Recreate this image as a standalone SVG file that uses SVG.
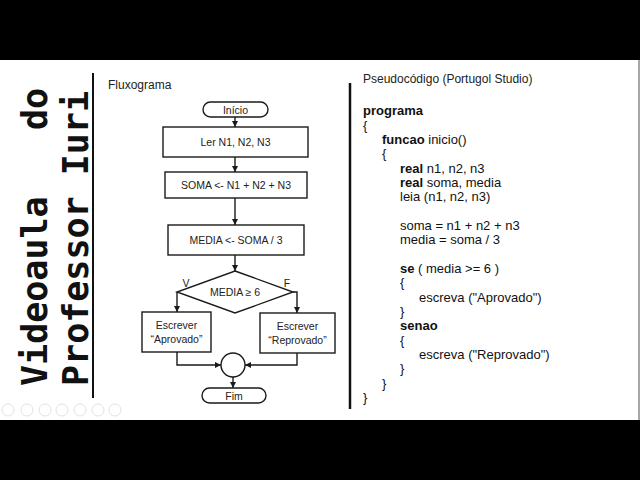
<svg xmlns="http://www.w3.org/2000/svg" width="640" height="480" viewBox="0 0 640 480">
<defs>
<marker id="ah" viewBox="0 0 8 8" refX="8" refY="4" markerWidth="6" markerHeight="6" markerUnits="userSpaceOnUse" orient="auto">
<path d="M0,0 L8,4 L0,8 Z" fill="#1a1a1a"/>
</marker>
<style>
.shape{fill:#fff;stroke:#1a1a1a;stroke-width:1.4}
.conn{fill:none;stroke:#1a1a1a;stroke-width:1.4;marker-end:url(#ah)}
.ft{font-family:"Liberation Sans",Arial,sans-serif;font-size:10.5px;fill:#222;text-anchor:middle}
.hd{font-family:"Liberation Sans",Arial,sans-serif;font-size:12px;fill:#222}
.code{font-family:"Liberation Sans",Arial,sans-serif;font-size:13px;fill:#111}
.b{font-weight:bold}
.vt{font-family:"DejaVu Sans Mono",monospace;font-weight:bold;font-size:35px;fill:#111}
.tb{fill:none;stroke:#e2e2e2;stroke-width:1}
</style>
</defs>
<rect x="0" y="0" width="640" height="480" fill="#000"/>
<rect x="0" y="60" width="640" height="360" fill="#fff"/>
<line x1="639" y1="60" x2="639" y2="420" stroke="#8a8a8a" stroke-width="1.5"/>

<!-- vertical title -->
<text class="vt" transform="translate(47,386) rotate(-90)"><tspan x="0" y="0">Videoaula</tspan><tspan x="256" y="0">do</tspan></text>
<text class="vt" transform="translate(88,386) rotate(-90)" x="0" y="0">Professor Iuri</text>
<line x1="93" y1="73" x2="93" y2="398" stroke="#111" stroke-width="2"/>

<!-- flowchart -->
<text class="hd" x="108" y="89">Fluxograma</text>

<g id="connectors">
<path class="conn" d="M235 117 V127"/>
<path class="conn" d="M235 157 V172"/>
<path class="conn" d="M235 198 V225"/>
<path class="conn" d="M235 255 V271"/>
<path class="conn" d="M177 292 V312"/>
<path class="conn" d="M293 292 H297 V313"/>
<path class="conn" d="M177 352 V365 H221"/>
<path class="conn" d="M297 353 V365 H245"/>
<path class="conn" d="M233 377 V388"/>
</g>

<g id="inicio">
<rect class="shape" x="203" y="102" width="65" height="15" rx="7.5"/>
<text class="ft" x="235.5" y="113.5">Início</text>
</g>
<g id="ler">
<rect class="shape" x="163" y="127" width="145" height="30"/>
<text class="ft" x="235.5" y="146">Ler N1, N2, N3</text>
</g>
<g id="soma">
<rect class="shape" x="165" y="172" width="142" height="26"/>
<text class="ft" x="236" y="189">SOMA &lt;- N1 + N2 + N3</text>
</g>
<g id="media">
<rect class="shape" x="168" y="225" width="136" height="30"/>
<text class="ft" x="236" y="244">MEDIA &lt;- SOMA / 3</text>
</g>
<g id="decisao">
<polygon class="shape" points="235,271 293,292 235,313 177,292"/>
<text class="ft" x="235" y="296">MEDIA ≥ 6</text>
<text class="ft" x="186" y="287">V</text>
<text class="ft" x="287" y="287">F</text>
</g>
<g id="aprovado">
<rect class="shape" x="142" y="312" width="69" height="40"/>
<text class="ft" x="176.5" y="329">Escrever</text>
<text class="ft" x="176.5" y="343">“Aprovado”</text>
</g>
<g id="reprovado">
<rect class="shape" x="260" y="313" width="75" height="40"/>
<text class="ft" x="297.5" y="330">Escrever</text>
<text class="ft" x="297.5" y="344">“Reprovado”</text>
</g>
<g id="juncao">
<circle class="shape" cx="233" cy="365" r="12"/>
</g>
<g id="fim">
<rect class="shape" x="202" y="388" width="64" height="15" rx="7.5"/>
<text class="ft" x="234" y="399.5">Fim</text>
</g>

<!-- pseudocode -->
<line x1="350" y1="83" x2="350" y2="409" stroke="#111" stroke-width="2.5"/>
<text class="hd" x="363" y="83">Pseudocódigo (Portugol Studio)</text>
<g class="code">
<text x="363" y="115" class="code b">programa</text>
<text x="363" y="129.5" class="code">{</text>
<text x="382" y="144" class="code"><tspan class="b">funcao</tspan> inicio()</text>
<text x="382" y="158" class="code">{</text>
<text x="400" y="172.5" class="code"><tspan class="b">real</tspan> n1, n2, n3</text>
<text x="400" y="187" class="code"><tspan class="b">real</tspan> soma, media</text>
<text x="400" y="201" class="code">leia (n1, n2, n3)</text>
<text x="400" y="230" class="code">soma = n1 + n2 + n3</text>
<text x="400" y="244" class="code">media = soma / 3</text>
<text x="400" y="273" class="code"><tspan class="b">se</tspan> ( media &gt;= 6 )</text>
<text x="400" y="287" class="code">{</text>
<text x="419" y="301.5" class="code">escreva  ("Aprovado")</text>
<text x="400" y="316" class="code">}</text>
<text x="400" y="330" class="code b">senao</text>
<text x="400" y="344.5" class="code">{</text>
<text x="419" y="359" class="code">escreva ("Reprovado")</text>
<text x="400" y="373" class="code">}</text>
<text x="382" y="387.5" class="code">}</text>
<text x="363" y="402" class="code">}</text>
</g>

<!-- slideshow toolbar -->
<circle class="tb" cx="8" cy="410" r="6"/>
<circle class="tb" cx="27" cy="410" r="6"/>
<circle class="tb" cx="45" cy="410" r="6"/>
<circle class="tb" cx="62" cy="410" r="6"/>
<circle class="tb" cx="80" cy="410" r="6"/>
<circle class="tb" cx="98" cy="410" r="6"/>
<circle class="tb" cx="115" cy="410" r="6"/>
</svg>
